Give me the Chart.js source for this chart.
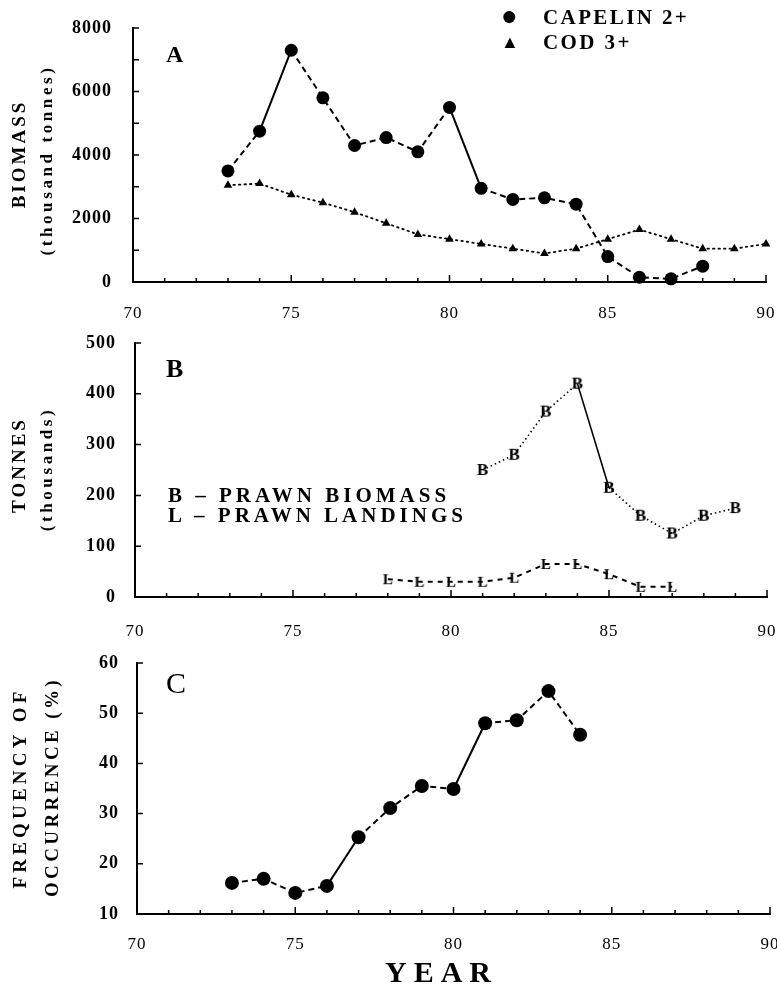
<!DOCTYPE html>
<html lang="en">
<head>
<meta charset="utf-8"/>
<title>Capelin, cod and prawn biomass</title>
<script src="https://cdn.jsdelivr.net/npm/chart.js@4.4.3/dist/chart.umd.min.js"></script>
<style>
  * { box-sizing: border-box; }
  body { margin: 0; background: #fff; }
  #wrap { position: relative; width: 777px; height: 992px; font-family: "Liberation Serif", "Times New Roman", serif; color: #000; }
  .pane { position: absolute; left: 0; width: 777px; }
  .t { position: absolute; white-space: nowrap; line-height: 1; }
  .rot { transform: translate(-50%, -50%) rotate(-90deg); }
  .ylab { font-weight: bold; font-size: 19px; letter-spacing: 3px; }
  .ysub { font-weight: bold; font-size: 17px; letter-spacing: 3.6px; }
  .leg { font-size: 21px; font-weight: bold; letter-spacing: 2.4px; }
  .legb { font-size: 21px; font-weight: bold; letter-spacing: 4px; }
</style>
</head>
<body>
<div id="wrap">
  <div class="pane" style="top:0;height:330px"><canvas id="chartA"></canvas></div>
  <div class="pane" style="top:330px;height:310px"><canvas id="chartB"></canvas></div>
  <div class="pane" style="top:640px;height:330px"><canvas id="chartC"></canvas></div>

  <!-- panel A -->
  <div class="t rot ylab" style="left:18px;top:154px">BIOMASS</div>
  <div class="t rot ysub" style="left:46px;top:160px">(thousand tonnes)</div>
  <div class="t" style="left:166px;top:42px;font-size:24px;font-weight:bold">A</div>
  <div class="t" style="left:501px;top:2px;font-size:28px">●</div>
  <div class="t leg" style="left:543px;top:7px">CAPELIN 2+</div>
  <div class="t" style="left:501px;top:33px;font-size:18px">▲</div>
  <div class="t leg" style="left:543px;top:32px">COD 3+</div>

  <!-- panel B -->
  <div class="t rot ylab" style="left:18px;top:465px">TONNES</div>
  <div class="t rot ysub" style="left:46px;top:469px">(thousands)</div>
  <div class="t" style="left:166px;top:356px;font-size:26px;font-weight:bold">B</div>
  <div class="t legb" style="left:168px;top:485px">B – PRAWN BIOMASS</div>
  <div class="t legb" style="left:168px;top:505px">L – PRAWN LANDINGS</div>

  <!-- panel C -->
  <div class="t rot ylab" style="left:19px;top:788px;letter-spacing:4.2px">FREQUENCY OF</div>
  <div class="t rot ylab" style="left:51px;top:787px;letter-spacing:3.4px">OCCURRENCE (%)</div>
  <div class="t" style="left:166px;top:668px;font-size:30px">C</div>
  <div class="t" style="left:385px;top:957px;font-size:30px;font-weight:bold;letter-spacing:7px">YEAR</div>
</div>

<script>
// ---------------------------------------------------------------------------
// Data
// ---------------------------------------------------------------------------
const YEAR_TICKS = [70, 75, 80, 85, 90];

// A: biomass, thousand tonnes
const capelinYears = [73, 74, 75, 76, 77, 78, 79, 80, 81, 82, 83, 84, 85, 86, 87, 88];
const capelin2 = [3500, 4750, 7300, 5800, 4300, 4550, 4100, 5500, 2950, 2600, 2650, 2450, 800, 150, 100, 500];
const codYears = [73, 74, 75, 76, 77, 78, 79, 80, 81, 82, 83, 84, 85, 86, 87, 88, 89, 90];
const cod3 = [3050, 3100, 2750, 2500, 2200, 1850, 1500, 1350, 1200, 1050, 900, 1050, 1350, 1650, 1350, 1050, 1050, 1200];

// B: prawn, thousand tonnes
const prawnBiomassYears = [81, 82, 83, 84, 85, 86, 87, 88, 89];
const prawnBiomass = [250, 280, 365, 420, 215, 160, 125, 160, 175];
const prawnLandingYears = [78, 79, 80, 81, 82, 83, 84, 85, 86, 87];
const prawnLandings = [35, 30, 30, 30, 38, 65, 65, 45, 20, 20];

// C: frequency of occurrence (%)
const freqYears = [73, 74, 75, 76, 77, 78, 79, 80, 81, 82, 83, 84];
const freqOccurrence = [16.2, 17, 14.2, 15.6, 25.3, 31.1, 35.5, 34.9, 48, 48.6, 54.4, 45.7];

// segments (by start year) that the original draws solid instead of dashed
const SOLID_CAPELIN = [74, 80];
const SOLID_PRAWN = [84];
const SOLID_FREQ = [76, 80];

// ---------------------------------------------------------------------------
Chart.defaults.font.family = '"Liberation Serif", "Times New Roman", serif';
Chart.defaults.color = '#000';
Chart.defaults.animation = false;

const pts = (xs, ys) => xs.map((x, i) => ({ x, y: ys[i] }));
const DASH = [6, 4];
const DOT = [1.5, 4];
const dashUnless = (solid, dash) => (ctx) => (solid.includes(ctx.p0.parsed.x) ? [] : dash);

function letterMarker(ch, size) {
  const c = document.createElement('canvas');
  c.width = 18; c.height = 18;
  const g = c.getContext('2d');
  g.font = `bold ${size}px "Liberation Serif", serif`;
  g.textAlign = 'center';
  g.textBaseline = 'middle';
  g.fillStyle = '#000';
  g.fillText(ch, 9, 10);
  return c;
}

// inward tick marks, every year on x and every step on y
const inwardTicks = {
  id: 'inwardTicks',
  beforeDraw(chart) { chart.ctx.letterSpacing = '1px'; },
  afterDraw(chart) {
    const { ctx, chartArea } = chart;
    const xs = chart.scales.x, ys = chart.scales.y;
    ctx.save();
    ctx.strokeStyle = '#000';
    ctx.lineWidth = 1.5;
    ctx.beginPath();
    xs.ticks.forEach((t) => {
      const px = xs.getPixelForValue(t.value);
      const len = t.value % 5 === 0 ? 7 : 4;
      ctx.moveTo(px, chartArea.bottom);
      ctx.lineTo(px, chartArea.bottom - len);
    });
    ys.ticks.forEach((t) => {
      const py = ys.getPixelForValue(t.value);
      ctx.moveTo(chartArea.left, py);
      ctx.lineTo(chartArea.left + 6, py);
    });
    ctx.stroke();
    ctx.restore();
  },
};

// fixed axis boxes so every panel's plot area lands where the original's does
const fixSize = (prop, n) => (s) => {
  s[prop] = n;
  s.paddingLeft = s.paddingRight = s.paddingTop = s.paddingBottom = 0;
};

function panel(id, o) {
  return new Chart(document.getElementById(id), {
    type: 'line',
    data: { datasets: o.datasets },
    options: {
      responsive: true,
      maintainAspectRatio: false,
      layout: { padding: { top: o.top, right: o.right, left: 0, bottom: 0 } },
      plugins: { legend: { display: false }, tooltip: { enabled: false } },
      scales: {
        x: {
          type: 'linear', min: 70, max: 90,
          grid: { display: false },
          border: { display: true, color: '#000', width: 2 },
          afterFit: fixSize('height', o.xh),
          ticks: {
            stepSize: 1, autoSkip: false, maxRotation: 0, padding: o.xpad,
            font: { size: 17 },
            callback: (v) => (YEAR_TICKS.includes(v) ? String(v) : ''),
          },
        },
        y: {
          min: o.ymin, max: o.ymax,
          grid: { display: false },
          border: { display: true, color: '#000', width: 2 },
          afterFit: fixSize('width', o.yw),
          ticks: {
            stepSize: o.ystep, padding: o.ypad,
            font: { size: 18, weight: 'bold' },
            callback: o.ylabel || ((v) => String(v)),
          },
        },
      },
    },
    plugins: [inwardTicks],
  });
}

panel('chartA', {
  top: 28, right: 11, xh: 48, yw: 133, xpad: 13, ypad: 13,
  ymin: 0, ymax: 8000, ystep: 1000,
  ylabel: (v) => (v % 2000 === 0 ? String(v) : ''),
  datasets: [
    {
      label: 'CAPELIN 2+', data: pts(capelinYears, capelin2),
      borderColor: '#000', borderWidth: 2, backgroundColor: '#000',
      pointStyle: 'circle', pointRadius: 6.5, pointBorderWidth: 0, clip: false,
      segment: { borderDash: dashUnless(SOLID_CAPELIN, DASH) },
    },
    {
      label: 'COD 3+', data: pts(codYears, cod3),
      borderColor: '#000', borderWidth: 1.8, backgroundColor: '#000', borderDash: DOT, borderCapStyle: 'round',
      pointStyle: 'triangle', pointRadius: 5, pointBorderWidth: 0, clip: false,
    },
  ],
});

panel('chartB', {
  top: 13, right: 10, xh: 43, yw: 135, xpad: 16, ypad: 11,
  ymin: 0, ymax: 500, ystep: 100,
  datasets: [
    {
      label: 'PRAWN BIOMASS', data: pts(prawnBiomassYears, prawnBiomass),
      borderColor: '#000', borderWidth: 1.6,
      pointStyle: letterMarker('B', 17), clip: false,
      segment: { borderDash: dashUnless(SOLID_PRAWN, [1.5, 3]) },
    },
    {
      label: 'PRAWN LANDINGS', data: pts(prawnLandingYears, prawnLandings),
      borderColor: '#000', borderWidth: 2, borderDash: [5, 5],
      pointStyle: letterMarker('L', 15), clip: false,
    },
  ],
});

panel('chartC', {
  top: 23, right: 7, xh: 56, yw: 137, xpad: 12, ypad: 10,
  ymin: 10, ymax: 60, ystep: 10,
  datasets: [
    {
      label: 'FREQUENCY OF OCCURRENCE', data: pts(freqYears, freqOccurrence),
      borderColor: '#000', borderWidth: 2, backgroundColor: '#000',
      pointStyle: 'circle', pointRadius: 7, pointBorderWidth: 0, clip: false,
      segment: { borderDash: dashUnless(SOLID_FREQ, DASH) },
    },
  ],
});
</script>
</body>
</html>
